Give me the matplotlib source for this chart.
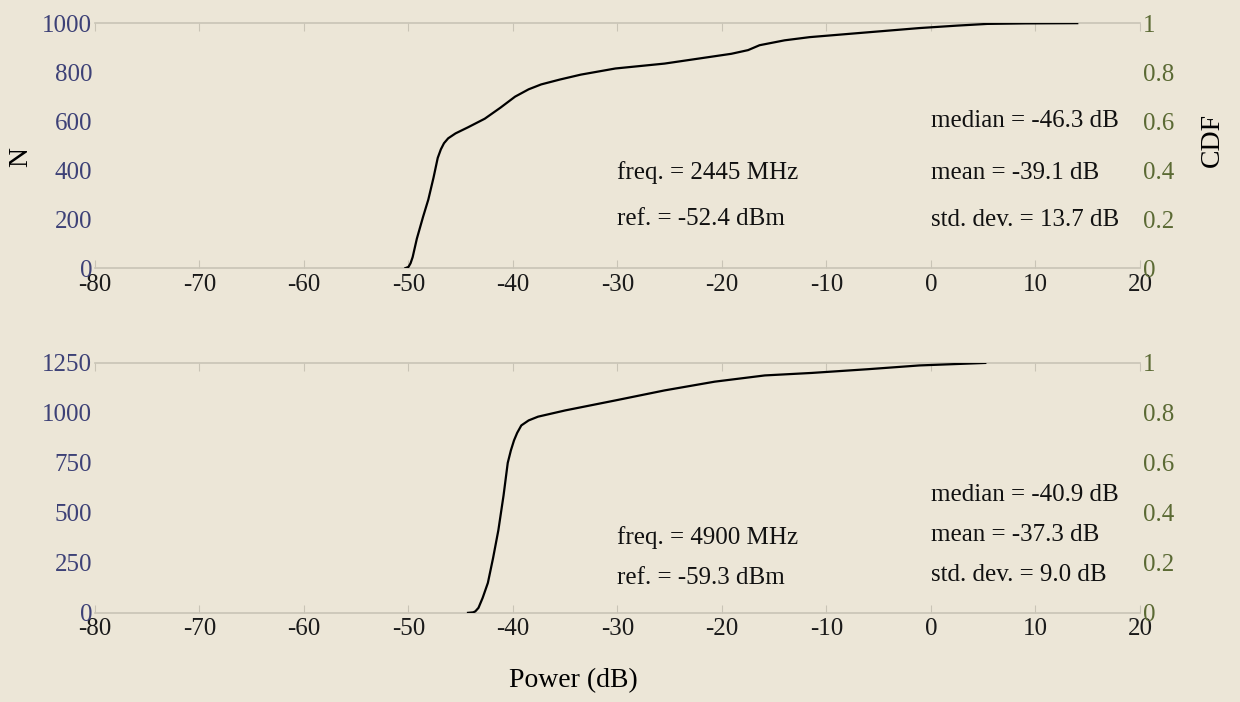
import numpy as np
import matplotlib.pyplot as plt

plt.rcParams['font.family'] = ['Liberation Serif', 'DejaVu Serif']
plt.rcParams['axes.unicode_minus'] = False

# CDF curves (power in dB, cumulative fraction)
top_x = [-50.3, -50.0, -49.8, -49.6, -49.2, -48.6, -48.1, -47.6, -47.2, -46.9,
         -46.6, -46.2, -45.5, -44.3, -42.7, -41.2, -39.8, -38.5, -37.3, -35.5,
         -33.5, -30.2, -25.5, -22.3, -19.1, -17.5, -16.4, -14.0, -11.6, -6.8,
         -1.1, 2.5, 5.4, 9.0, 14.0]
top_cdf = [0.0, 0.005, 0.02, 0.045, 0.12, 0.21, 0.28, 0.37, 0.45, 0.485,
           0.51, 0.53, 0.55, 0.575, 0.61, 0.655, 0.70, 0.73, 0.75, 0.77,
           0.79, 0.815, 0.835, 0.855, 0.875, 0.89, 0.91, 0.93, 0.943, 0.96,
           0.98, 0.99, 0.997, 0.999, 1.0]

bot_x = [-44.3, -43.8, -43.6, -43.3, -42.9, -42.4, -41.9, -41.4, -40.9, -40.5,
         -40.2, -39.9, -39.6, -39.2, -38.5, -37.6, -35.0, -30.2, -25.5, -20.7,
         -15.9, -11.4, -6.0, -1.1, 5.2]
bot_cdf = [0.0, 0.002, 0.006, 0.02, 0.06, 0.12, 0.22, 0.33, 0.47, 0.6,
           0.65, 0.69, 0.72, 0.75, 0.77, 0.785, 0.81, 0.85, 0.89, 0.925,
           0.95, 0.96, 0.975, 0.99, 1.0]

x_ticks = [-80, -70, -60, -50, -40, -30, -20, -10, 0, 10, 20]
top_n_ticks = [0, 200, 400, 600, 800, 1000]
bot_n_ticks = [0, 250, 500, 750, 1000, 1250]
cdf_ticks = [0, 0.2, 0.4, 0.6, 0.8, 1.0]
cdf_labels = ['0', '0.2', '0.4', '0.6', '0.8', '1']

top_info = ['freq. = 2445 MHz', 'ref. = -52.4 dBm']
top_stats = ['median = -46.3 dB', 'mean = -39.1 dB', 'std. dev. = 13.7 dB']
bot_info = ['freq. = 4900 MHz', 'ref. = -59.3 dBm']
bot_stats = ['median = -40.9 dB', 'mean = -37.3 dB', 'std. dev. = 9.0 dB']

bg = '#ece6d7'
blue = '#3d4177'
green = '#5b6a34'
faint = '#c9c4b6'

fig = plt.figure(figsize=(12.4, 7.02), dpi=100, facecolor=bg)
ax1 = fig.add_axes([0.0766, 0.618, 0.8427, 0.349])
ax2 = fig.add_axes([0.0766, 0.127, 0.8427, 0.356])


def setup(ax, nticks, xs, cdf, info, info_y, stats, stats_y):
    ax.set_facecolor(bg)
    ax.set_xlim(-80, 20)
    ax.set_ylim(0, nticks[-1])
    ax.set_xticks(x_ticks)
    ax.set_xticklabels([str(t) for t in x_ticks])
    ax.set_yticks(nticks)
    ax.tick_params(axis='x', direction='in', length=6, color=faint, pad=4,
                   labelsize=18, labelcolor='#1a1a1a', top=True)
    ax.tick_params(axis='y', length=0, pad=2, labelsize=18, labelcolor=blue)
    for s in ['left', 'right']:
        ax.spines[s].set_visible(False)
    for s in ['top', 'bottom']:
        ax.spines[s].set_color(faint)
        ax.spines[s].set_linewidth(1.2)

    tw = ax.twinx()
    tw.set_ylim(0, 1)
    tw.set_yticks(cdf_ticks)
    tw.set_yticklabels(cdf_labels)
    tw.tick_params(axis='y', length=0, pad=2, labelsize=18, labelcolor=green)
    for s in tw.spines.values():
        s.set_visible(False)
    tw.plot(xs, cdf, color='black', lw=1.6)

    for t, y in zip(info, info_y):
        tw.text(-30, y, t, fontsize=18, va='center', ha='left', color='#111111')
    for t, y in zip(stats, stats_y):
        tw.text(0, y, t, fontsize=18, va='center', ha='left', color='#111111')
    return tw


setup(ax1, top_n_ticks, top_x, top_cdf, top_info, [0.39, 0.20],
      top_stats, [0.60, 0.39, 0.195])
setup(ax2, bot_n_ticks, bot_x, bot_cdf, bot_info, [0.30, 0.14],
      bot_stats, [0.47, 0.31, 0.15])

fig.text(0.017, 0.776, 'N', rotation=90, fontsize=20, va='center', ha='center')
fig.text(0.978, 0.80, 'CDF', rotation=90, fontsize=20, va='center', ha='center')
fig.text(0.462, 0.031, 'Power (dB)', fontsize=20, va='center', ha='center')

fig.savefig('out.png', dpi=100, facecolor=bg)
